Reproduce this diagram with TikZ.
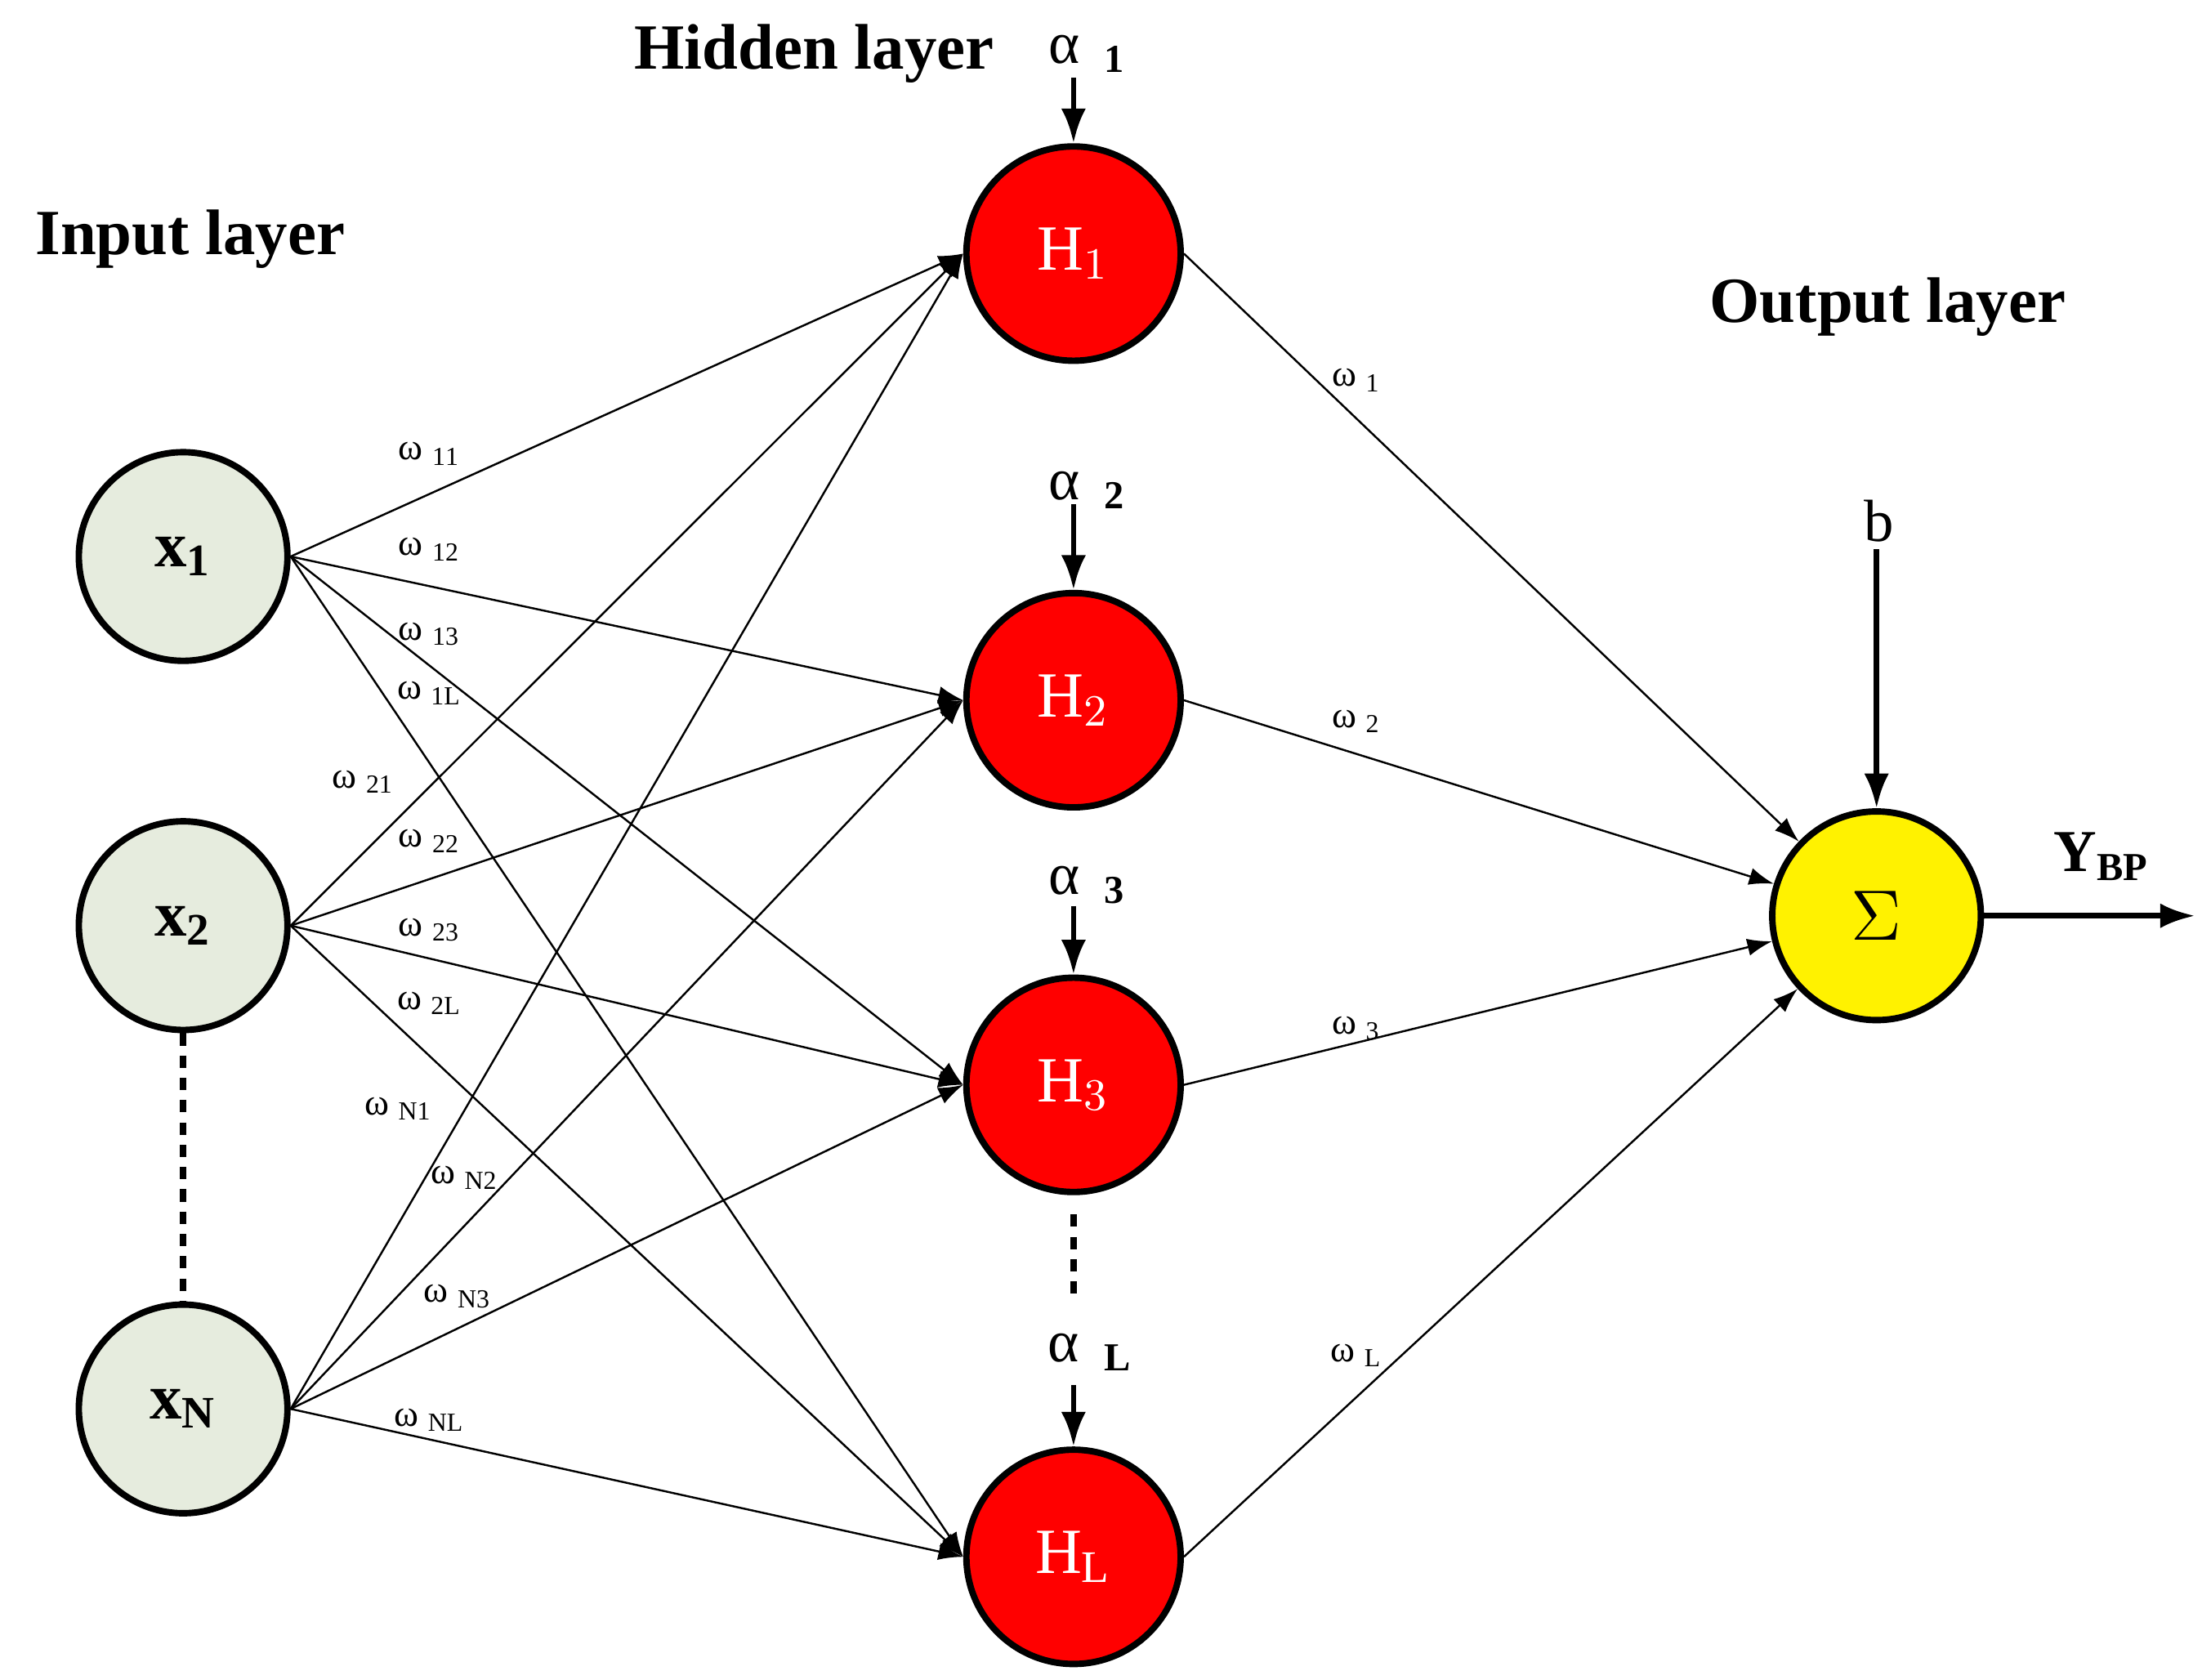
\documentclass[tikz,border=0pt]{standalone}
\usepackage{fontspec}
\setmainfont{Liberation Serif}
\usetikzlibrary{arrows.meta}
\definecolor{ingreen}{RGB}{230,236,222}
\begin{document}
\begin{tikzpicture}[x=0.01cm,y=-0.01cm,
  inn/.style={circle,draw,line width=1.3pt,fill=ingreen,minimum size=1.48cm,inner sep=0pt,font=\fontsize{13}{13}\selectfont\bfseries},
  hid/.style={circle,draw,line width=1.3pt,fill=red,minimum size=1.52cm,inner sep=0pt,text=white,font=\fontsize{13}{13}\selectfont},
  outn/.style={circle,draw,line width=1.3pt,fill=yellow,minimum size=1.48cm,inner sep=0pt,font=\fontsize{14}{14}\selectfont},
  conn/.style={line width=0.4pt,-{Latex[length=5pt,width=3.5pt]}},
  bias/.style={line width=1.1pt,-{Latex[length=7pt,width=5pt]}},
  wl/.style={font=\fontsize{7.5}{8}\selectfont},
  al/.style={font=\fontsize{12}{12}\selectfont},
  ttl/.style={font=\fontsize{13}{13}\selectfont\bfseries},
  dots/.style={line width=1.3pt,dash pattern=on 2.5pt off 2pt}]
\useasboundingbox (0,0) rectangle (1563,1192);
\node[ttl] (tin) at (135,170) {Input layer};
\node[ttl] (thid) at (578,38) {Hidden layer};
\node[ttl] (tout) at (1340,218) {Output layer};
\node[inn] (x1) at (130,395) {x$_\mathbf{1}$};
\node[inn] (x2) at (130,657) {x$_\mathbf{2}$};
\node[inn] (xN) at (130,1000) {x$_\mathbf{N}$};
\node[hid] (H1) at (762,180) {H$_1$};
\node[hid] (H2) at (762,497) {H$_2$};
\node[hid] (H3) at (762,770) {H$_3$};
\node[hid] (HL) at (762,1105) {H$_\mathrm{L}$};
\node[outn] (S) at (1332,650) {$\Sigma$};
\draw[dots] (x2.south) -- (xN.north);
\draw[dots] (762,862) coordinate (d1) -- (762,925) coordinate (d2);
\foreach \i in {x1,x2,xN}{\foreach \j in {H1,H2,H3,HL}{\draw[conn] (\i.east) -- (\j.west);}}
\foreach \j in {H1,H2,H3,HL}{\draw[conn] (\j.east) -- (S);}
\node[al] (a1) at (772,38) {α \,$_{\mathbf{1}}$};
\coordinate (a1s) at (762,55);
\draw[bias] (a1s) -- (H1.north);
\node[al] (a2) at (772,348) {α \,$_{\mathbf{2}}$};
\coordinate (a2s) at (762,358);
\draw[bias] (a2s) -- (H2.north);
\node[al] (a3) at (772,628) {α \,$_{\mathbf{3}}$};
\coordinate (a3s) at (762,643);
\draw[bias] (a3s) -- (H3.north);
\node[al] (aL) at (774,960) {α \,$_{\mathbf{L}}$};
\coordinate (aLs) at (762,983);
\draw[bias] (aLs) -- (HL.north);
\node[al] (b) at (1334,370) {b};
\coordinate (bs) at (1332,390);
\draw[bias] (bs) -- (S.north);
\coordinate (yo) at (1558,650);
\draw[bias] (S.east) -- (yo);
\node[font=\fontsize{12}{12}\selectfont\bfseries] (y) at (1492,608) {Y$_{\mathbf{BP}}$};
\foreach \t/\p in {11/{305,322},12/{305,390},13/{305,450},1L/{305,492},21/{258,555},22/{305,597},23/{305,660},2L/{305,712},N1/{283,787},N2/{330,836},N3/{325,920},NL/{305,1008},1/{963,270},2/{963,512},3/{963,730},L/{963,962}}
  \node[wl] (w\t) at (\p) {ω $_{\mathrm{\t}}$};
\end{tikzpicture}
\end{document}
